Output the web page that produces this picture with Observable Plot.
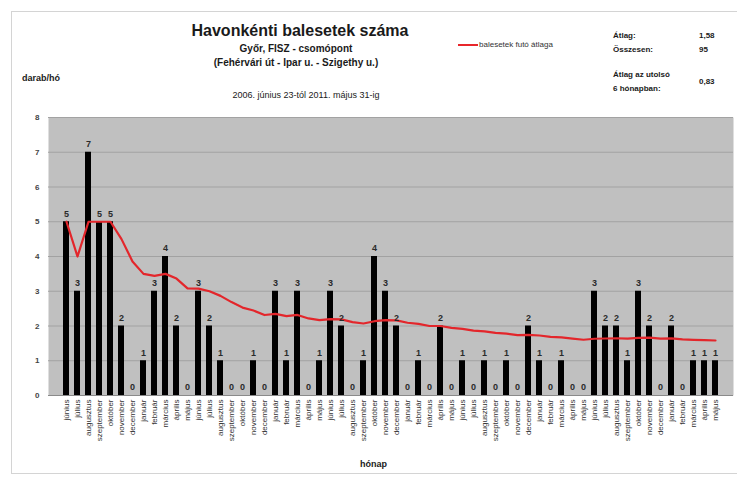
<!DOCTYPE html>
<html>
<head>
<meta charset="utf-8">
<script src="https://cdn.jsdelivr.net/npm/d3@7"></script>
<script src="https://cdn.jsdelivr.net/npm/@observablehq/plot@0.6"></script>
<style>
  body { margin: 0; background: #fff; font-family: "Liberation Sans", Arial, sans-serif; }
  #wrap { position: relative; width: 737px; height: 477px; overflow: hidden; background: #fff; }
  #border { position: absolute; left: 11px; top: 11px; width: 740px; height: 463px; border: 1px solid #d4d4d4; box-sizing: border-box; }
  #chart { position: absolute; left: 0; top: 0; }
  .t { position: absolute; white-space: nowrap; color: #1a1a1a; }
  .c { text-align: center; }
  .b { font-weight: bold; }
</style>
</head>
<body>
<div id="wrap">
  <div id="border"></div>
  <div id="chart"></div>

  <div class="t c b" style="left:100px;width:400px;top:22px;font-size:16px;">Havonkénti balesetek száma</div>
  <div class="t c b" style="left:146px;width:300px;top:43px;font-size:10px;">Győr, FISZ - csomópont</div>
  <div class="t c b" style="left:146px;width:300px;top:57px;font-size:10px;">(Fehérvári út - Ipar u. - Szigethy u.)</div>
  <div class="t c" style="left:156px;width:300px;top:90px;font-size:9px;">2006. június 23-tól 2011. május 31-ig</div>
  <div class="t b" style="left:22px;top:73px;font-size:9px;">darab/hó</div>
  <div class="t b" style="left:360px;top:459px;font-size:9px;">hónap</div>

  <div style="position:absolute;left:458px;top:44px;width:20px;height:2px;background:#e8262b;"></div>
  <div class="t" style="left:479px;top:40px;font-size:8px;color:#333;">balesetek futó átlaga</div>

  <div class="t b" style="left:613px;top:31px;font-size:8px;">Átlag:</div>
  <div class="t b" style="left:699px;top:31px;font-size:8px;" id="avg"></div>
  <div class="t b" style="left:613px;top:45px;font-size:8px;">Összesen:</div>
  <div class="t b" style="left:699px;top:45px;font-size:8px;" id="total"></div>
  <div class="t b" style="left:613px;top:70px;font-size:8px;">Átlag az utolsó</div>
  <div class="t b" style="left:613px;top:84px;font-size:8px;">6 hónapban:</div>
  <div class="t b" style="left:699px;top:77px;font-size:8px;" id="last6"></div>
</div>
<script>
// Month names (Hungarian), cycled from június 2006 to május 2011
const monthNames = ["június", "július", "augusztus", "szeptember", "október", "november",
                    "december", "január", "február", "március", "április", "május"];

// Accidents per month, 2006-06 .. 2011-05
const counts2006 = [5, 3, 7, 5, 5, 2, 0];
const counts2007 = [1, 3, 4, 2, 0, 3, 2, 1, 0, 0, 1, 0];
const counts2008 = [3, 1, 3, 0, 1, 3, 2, 0, 1, 4, 3, 2];
const counts2009 = [0, 1, 0, 2, 0, 1, 0, 1, 0, 1, 0, 2];
const counts2010 = [1, 0, 1, 0, 0, 3, 2, 2, 1, 3, 2, 0];
const counts2011 = [2, 0, 1, 1, 1];

const counts = [...counts2006, ...counts2007, ...counts2008, ...counts2009, ...counts2010, ...counts2011];
const rows = counts.map((n, i) => ({i, n, month: monthNames[i % 12]}));

// Running (cumulative) average of the monthly counts
const runningMean = values => {
  let s = 0;
  return values.map((v, k) => (s += v) / (k + 1));
};

const fmt = v => v.toFixed(2).replace(".", ",");
document.getElementById("avg").textContent = fmt(d3.mean(counts));
document.getElementById("total").textContent = d3.sum(counts);
document.getElementById("last6").textContent = fmt(d3.mean(counts.slice(-6)));

const font = "Liberation Sans, Arial, sans-serif";

const chart = Plot.plot({
  width: 737,
  height: 477,
  marginLeft: 48,
  marginRight: 4,
  marginTop: 117,
  marginBottom: 82,
  style: {fontFamily: font, background: "transparent", overflow: "visible"},
  x: {type: "band", domain: d3.range(counts.length), padding: 0.42, label: null},
  y: {domain: [0, 8], label: null},
  marks: [
    Plot.frame({fill: "#c0c0c0", stroke: null}),
    Plot.ruleY(d3.range(1, 9), {stroke: "#a2a2a2", strokeWidth: 1}),
    Plot.barY(rows, {x: "i", y: "n", fill: "#000"}),
    Plot.ruleY([0], {stroke: "#8a8a8a"}),
    Plot.lineY(rows, Plot.mapY(runningMean, {x: "i", y: "n", stroke: "#e3262b", strokeWidth: 2.2})),
    Plot.text(rows, {x: "i", y: "n", text: d => String(d.n), dy: -8, fontWeight: "bold", fontSize: 9, fill: "#2a2a2a"}),
    Plot.axisX({tickFormat: i => monthNames[i % 12], tickRotate: -90, tickSize: 0, tickPadding: 4,
                fontSize: 8, fill: "#333", label: null}),
    Plot.axisY({ticks: d3.range(0, 9), tickFormat: d3.format("d"), tickSize: 0, tickPadding: 9,
                fontSize: 8, fontWeight: "bold", fill: "#444", label: null})
  ]
});
document.getElementById("chart").appendChild(chart);
</script>
</body>
</html>
